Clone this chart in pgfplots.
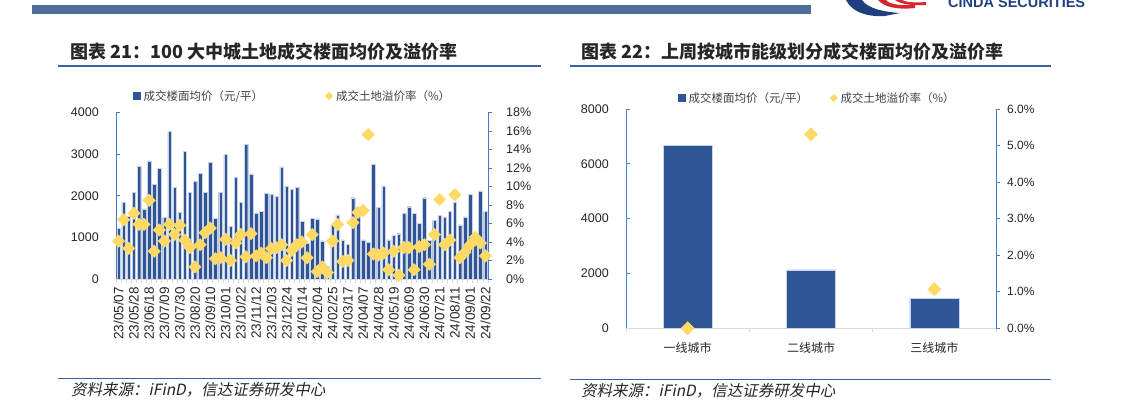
\documentclass[border=0pt]{standalone}
\usepackage{pgfplots}
\pgfplotsset{compat=1.18}
\usepackage{pgfplotstable}
\usepackage{fontspec}
\setmainfont{Liberation Sans}
\newfontfamily\cjk{Noto Sans CJK SC}
\newfontfamily\cjksl{Noto Sans CJK SC}[FakeSlant=0.2]

\definecolor{barblue}{HTML}{2F5597}
\definecolor{baredge}{HTML}{C9D3E6}
\definecolor{gold}{HTML}{FFD966}
\definecolor{axisblue}{HTML}{4A7CC9}
\definecolor{xgray}{HTML}{D9D9D9}
\definecolor{ticktext}{HTML}{262626}
\definecolor{legtext}{HTML}{404040}
\definecolor{headblue}{HTML}{4E6E98}
\definecolor{lineblue}{HTML}{41619E}
\definecolor{logoblue}{HTML}{1F3F80}
\definecolor{logored}{HTML}{D7262E}

\pgfplotstableread{
i bar dia
0 1218 4.1
1 1842 6.4
2 1500 3.3
3 2083 7.1
4 2715 5.9
5 1682 5.9
6 2836 8.5
7 2275 3.0
8 2659 5.3
9 1474 4.1
10 3540 5.9
11 2203 4.8
12 1602 5.8
13 3060 4.2
14 2083 3.4
15 2347 1.3
16 2539 3.7
17 2083 5.0
18 2803 5.5
19 1458 2.2
20 2083 2.3
21 2996 4.3
22 1258 2.0
23 2443 3.9
24 1842 4.8
25 3236 2.4
26 2523 4.9
27 1586 2.5
28 1618 2.8
29 2051 2.3
30 2035 3.3
31 1986 3.4
32 2691 3.7
33 2235 2.0
34 2147 3.1
35 2195 3.7
36 1378 4.0
37 850 2.3
38 1458 4.8
39 1442 0.8
40 913 1.3
41 300 0.7
42 1300 4.1
43 1538 5.9
44 937 1.9
45 833 2.0
46 1954 6.1
47 1600 7.2
48 937 7.4
49 889 15.6
50 2755 2.7
51 1722 2.6
52 2235 2.8
53 937 1.0
54 1050 3.0
55 1089 0.4
56 1570 3.4
57 1738 3.4
58 1578 1.0
59 1330 3.5
60 1954 3.7
61 930 1.6
62 1410 4.8
63 1522 8.6
64 1490 3.7
65 1626 4.2
66 1850 9.1
67 1298 2.3
68 1490 2.9
69 2035 3.7
70 1100 4.5
71 2115 3.9
72 1618 2.5
}\leftdata

\pgfplotstableread{
i bar dia
0 6670 0.0
1 2130 5.31
2 1100 1.07
}\rightdata

\pgfplotsset{
  mybase/.style={
    scale only axis, anchor=south west,
    tick align=inside, major tick length=4pt, minor tick length=4pt,
    scaled y ticks=false,
    /pgf/number format/assume math mode=true,
    /pgf/number format/1000 sep={},
    tick label style={text=ticktext},
    x axis line style={draw=xgray, line width=0.8pt, -},
    y axis line style={draw=axisblue, line width=0.9pt, -},
    ytick style={draw=axisblue, line width=0.9pt},
    major x tick style={draw=none},
    minor x tick style={draw=xgray, line width=0.8pt, yshift=-4pt},
  },
  myleg/.style={
    legend columns=2,
    legend cell align=left,
    legend style={draw=none, fill=none, inner sep=0pt, anchor=west,
      font=\cjk\fontsize{11.5}{13}\selectfont, text=legtext,
      nodes={inner sep=0pt},
      /tikz/every odd column/.append style={column sep=3pt},
      /tikz/every even column/.append style={column sep=#1}},
  },
}

\begin{document}
\begin{tikzpicture}
\path[use as bounding box] (0pt,0pt) rectangle (1137pt,404pt);

\begin{scope}[x=1pt,y=1pt]
% header bar and logo
\fill[headblue] (32,390) rectangle (811,399);
\fill[logoblue] (846,404) .. controls (852,392) and (866,387) .. (885,388) -- (900,391) .. controls (885,392) and (868,395) .. (862,404) -- cycle;
\fill[logored] (878,404) .. controls (884,397) and (897,394) .. (915,396) -- (915,399) .. controls (899,398) and (889,400) .. (886,404) -- cycle;
\fill[logored] (895,404) .. controls (900,400) and (912,398) .. (926,399) -- (926,402) .. controls (914,401) and (905,402) .. (902,404) -- cycle;
\node[anchor=base west, inner sep=0pt, text=logoblue, font=\bfseries\fontsize{14.5}{15}\selectfont] at (948,396) {CINDA SECURITIES};

% titles
\node[anchor=west, inner sep=0pt, text=ticktext, font=\cjk\bfseries\fontsize{18}{20}\selectfont] at (70,352) {图表 21：100 大中城土地成交楼面均价及溢价率};
\node[anchor=west, inner sep=0pt, text=ticktext, font=\cjk\bfseries\fontsize{18}{20}\selectfont] at (581,352) {图表 22：上周按城市能级划分成交楼面均价及溢价率};
\draw[lineblue, line width=1.6pt] (58,338) -- (541,338);
\draw[lineblue, line width=1.6pt] (570,338) -- (1051,338);

% source lines and notes
\draw[lineblue, line width=1pt] (58,25) -- (541,25);
\draw[lineblue, line width=1pt] (570,24) -- (1051,24);
\node[anchor=west, inner sep=0pt, text=ticktext, font=\cjksl\fontsize{15.5}{17}\selectfont] at (71,14) {资料来源：iFinD，信达证券研发中心};
\node[anchor=west, inner sep=0pt, text=ticktext, font=\cjksl\fontsize{15.5}{17}\selectfont] at (581,13) {资料来源：iFinD，信达证券研发中心};
\end{scope}

% ---------- left chart ----------
\begin{axis}[mybase, at={(116pt,125pt)}, width=372pt, height=166.5pt,
  xmin=-0.5, xmax=72.5, ymin=0, ymax=4000,
  axis y line*=left, axis x line*=bottom,
  ytick={0,1000,2000,3000,4000},
  xtick={0,3,...,72},
  xticklabels={23/05/07,23/05/28,23/06/18,23/07/09,23/07/30,23/08/20,23/09/10,23/10/01,23/10/22,23/11/12,23/12/03,23/12/24,24/01/14,24/02/04,24/02/25,24/03/17,24/04/07,24/04/28,24/05/19,24/06/09,24/06/30,24/07/21,24/08/11,24/09/01,24/09/22},
  minor xtick={-0.5,0.5,...,72.5},
  xticklabel style={yshift=-8pt, rotate=90, anchor=east, inner sep=0pt, font=\fontsize{13.5}{14}\selectfont},
  yticklabel style={anchor=east, inner sep=0pt, xshift=-17pt, font=\fontsize{12.5}{14}\selectfont},
]
\addplot[ybar, bar width=3.5pt, fill=barblue, draw=baredge, line width=0.3pt] table[x=i, y=bar] {\leftdata};
\end{axis}

\begin{axis}[mybase, myleg=62pt, at={(116pt,125pt)}, width=372pt, height=166.5pt,
  tick align=outside,
  xmin=-0.5, xmax=72.5, ymin=0, ymax=18,
  axis y line*=right, axis x line=none, clip=false,
  ytick={0,2,...,18},
  yticklabel={\pgfmathprintnumber{\tick}\%},
  yticklabel style={anchor=west, inner sep=0pt, xshift=14pt, font=\fontsize{12.5}{14}\selectfont},
  legend style={at={(axis description cs:0.0457,1.099)}},
]
\addlegendimage{legend image code/.code={\fill[barblue] (0pt,-3.5pt) rectangle (7pt,3.5pt);}}
\addlegendentry{成交楼面均价（元/平）}
\addplot[only marks, mark=square*, mark size=4.4pt, mark options={rotate=45, fill=gold, draw=gold},
  legend image code/.code={\fill[gold] (0pt,0pt) -- (3.8pt,3.8pt) -- (7.6pt,0pt) -- (3.8pt,-3.8pt) -- cycle;}]
  table[x=i, y=dia] {\leftdata};
\addlegendentry{成交土地溢价率（\%）}
\end{axis}

% ---------- right chart ----------
\begin{axis}[mybase, at={(626pt,75.7pt)}, width=370pt, height=219.3pt,
  xmin=-0.5, xmax=2.5, ymin=0, ymax=8000,
  axis y line*=left, axis x line*=bottom,
  ytick={0,2000,4000,6000,8000},
  xtick={0,1,2},
  xticklabels={一线城市,二线城市,三线城市},
  minor xtick={-0.5,0.5,1.5,2.5},
  xticklabel style={anchor=north, inner sep=0pt, yshift=-14pt, font=\cjk\fontsize{12}{14}\selectfont},
  yticklabel style={anchor=east, inner sep=0pt, xshift=-17pt, font=\fontsize{12.5}{14}\selectfont},
]
\addplot[ybar, bar width=49pt, fill=barblue, draw=baredge, line width=0.4pt] table[x=i, y=bar] {\rightdata};
\end{axis}

\begin{axis}[mybase, myleg=22pt, at={(626pt,75.7pt)}, width=370pt, height=219.3pt,
  tick align=outside,
  xmin=-0.5, xmax=2.5, ymin=0, ymax=6,
  axis y line*=right, axis x line=none, clip=false,
  ytick={0,1,...,6},
  yticklabel={\pgfmathprintnumber[fixed, fixed zerofill, precision=1]{\tick}\%},
  yticklabel style={anchor=west, inner sep=0pt, xshift=7pt, font=\fontsize{12}{14}\selectfont},
  legend style={at={(axis description cs:0.1405,1.050)}},
]
\addlegendimage{legend image code/.code={\fill[barblue] (0pt,-3.5pt) rectangle (7pt,3.5pt);}}
\addlegendentry{成交楼面均价（元/平）}
\addplot[only marks, mark=square*, mark size=4.7pt, mark options={rotate=45, fill=gold, draw=gold},
  legend image code/.code={\fill[gold] (0pt,0pt) -- (3.5pt,3.5pt) -- (7pt,0pt) -- (3.5pt,-3.5pt) -- cycle;}]
  table[x=i, y=dia] {\rightdata};
\addlegendentry{成交土地溢价率（\%）}
\end{axis}
\end{tikzpicture}
\end{document}
